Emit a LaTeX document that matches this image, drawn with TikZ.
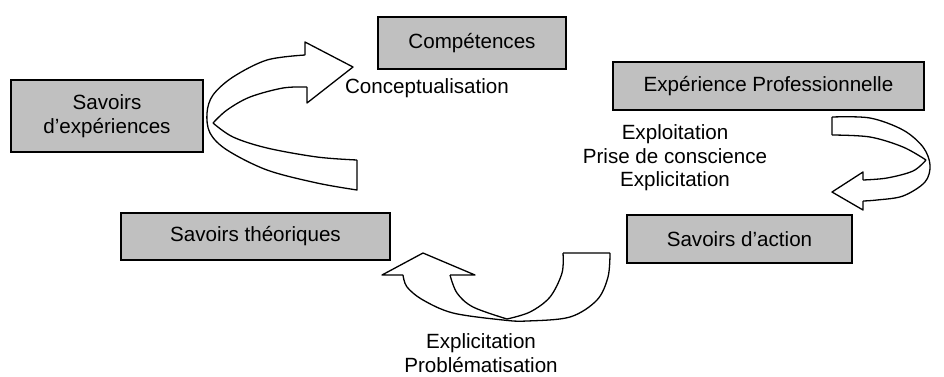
\documentclass[tikz,border=0pt]{standalone}
\usepackage{fontspec}
\setmainfont{Liberation Sans}
\usetikzlibrary{shadows}
\definecolor{boxgray}{RGB}{192,192,192}
\begin{document}
\begin{tikzpicture}[x=1pt,y=-1pt,
  every node/.style={font=\fontsize{20.6}{23.5}\selectfont, inner sep=0pt},
  box/.style={draw=black, line width=1.4pt, fill=boxgray, align=center,
    drop shadow={shadow xshift=1.2pt, shadow yshift=-1.2pt, fill=black, opacity=1}},
  label/.style={align=center},
  band/.style={draw=black, line width=1.3pt, line join=round},
  crease/.style={draw=black, line width=1.3pt}]
\useasboundingbox (0,0) rectangle (944,376);

% knowledge boxes
\node[box, minimum width=188pt, minimum height=52pt] (comp) at (472,43) {Compétences};
\node[box, minimum width=192pt, minimum height=72pt] (exp) at (107,116) {Savoirs\\d’expériences};
\node[box, minimum width=311pt, minimum height=48pt] (pro) at (768.5,86) {Expérience Professionnelle};
\node[box, minimum width=225pt, minimum height=48pt] (act) at (739.5,239) {Savoirs d’action};
\node[box, minimum width=269pt, minimum height=47pt] (theo) at (255.5,236.5) {Savoirs théoriques};

% process labels
\node[label] (concept) at (427,88) {Conceptualisation};
\node[label] (exploit) at (675,158) {Exploitation\\Prise de conscience\\Explicitation};
\node[label] (probl) at (481,353) {Explicitation\\Problématisation};

% curved block arrow: experience -> competences
\draw[band] plot[smooth, tension=0.55] coordinates {(305,55) (267,60) (233,77) (213,95) (207,113) (210,133) (227,150) (267,170) (317,183) (357,190)}
  -- (357,160);
\draw[crease] plot[smooth, tension=0.55] coordinates {(357,160) (317,157) (267,148) (233,137) (213,123)};
\draw[crease] plot[smooth, tension=0.55] coordinates {(307,87) (283,88) (250,97) (227,110) (213,123)};
\draw[band] (305,55) -- (305,42) -- (353,67) -- (307,103) -- (307,87);

% curved block arrow: professional experience -> action
\draw[band] (832,135) -- (832,117)
  plot[smooth, tension=0.55] coordinates {(832,117) (870,118) (903,130) (923,147) (930,165) (925,182) (903,196) (877,200) (863,201)};
\draw[crease] plot[smooth, tension=0.55] coordinates {(832,135) (870,137) (903,147) (926,160)};
\draw[crease] plot[smooth, tension=0.55] coordinates {(863,180) (887,178) (913,171) (926,160)};
\draw[band] (863,201) -- (863,210) -- (832,192) -- (863,172) -- (863,180);

% curved block arrow: action -> theory
\draw[band] (563,253) -- (610,253)
  plot[smooth, tension=0.55] coordinates {(610,253) (608,277) (597,300) (570,317) (527,321) (503,320) (453,313) (423,300) (407,287) (403,275)};
\draw[band] (403,275) -- (382,275) -- (423,253) -- (475,275) -- (450,275);
\draw[crease] plot[smooth, tension=0.55] coordinates {(450,275) (457,293) (473,307) (507,319)};
\draw[crease] plot[smooth, tension=0.55] coordinates {(563,253) (562,273) (550,297) (530,312) (507,319)};
\end{tikzpicture}
\end{document}
